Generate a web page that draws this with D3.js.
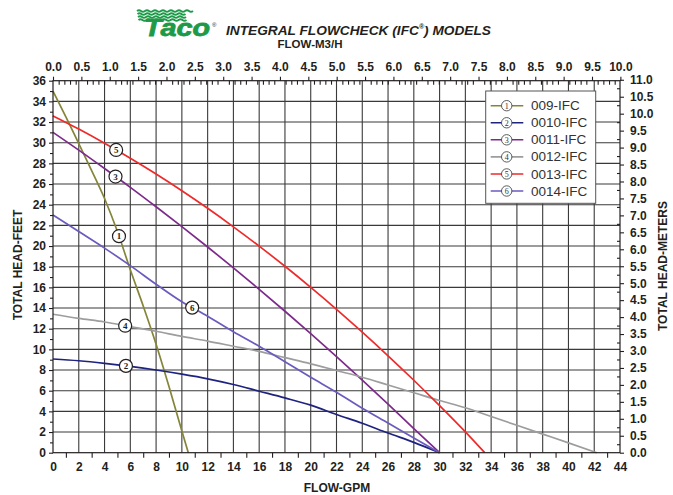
<!DOCTYPE html>
<html><head><meta charset="utf-8">
<script src="https://cdn.jsdelivr.net/npm/d3@7/dist/d3.min.js"></script>
<style>
body{margin:0;background:#fff}
svg{display:block;font-family:"Liberation Sans",Arial,sans-serif}
</style>
</head><body>
<svg id="c" width="673" height="495"></svg>
<script>
// ---- data (flow GPM, head FT) ----
const models = ["009-IFC","0010-IFC","0011-IFC","0012-IFC","0013-IFC","0014-IFC"];
const modelColors = ["#85853a","#1f2380","#7d2b8b","#9d9d9d","#ee2a2a","#6a5bbf"];
const curve009 = [[0,35],[1,32.5],[2,29.9],[3,27.3],[4,24.6],[5,21.4],[6,17.7],[7,14.2],[8,10.5],[9,6.4],[10,2.1],[10.5,0]];
const curve0010 = [[0,9.07],[2,8.9],[4,8.65],[6,8.35],[8,8.0],[10,7.6],[12,7.15],[14,6.6],[16,5.95],[18,5.3],[20,4.6],[22,3.7],[24,2.85],[26,1.9],[28,1.0],[30,0]];
const curve0011 = [[0,31.0],[2,29.28],[4,27.5],[6,25.68],[8,23.8],[10,21.88],[12,19.91],[14,17.89],[16,15.81],[18,13.69],[20,11.52],[22,9.3],[24,7.03],[26,4.71],[28,2.34],[30,0]];
const curve0012 = [[0,13.4],[2,13.0],[4,12.65],[6,12.2],[8,11.75],[10,11.25],[12,10.8],[14,10.3],[16,9.8],[18,9.2],[20,8.6],[22,7.95],[24,7.3],[26,6.55],[28,5.8],[30,5.05],[32,4.35],[34,3.5],[36,2.65],[38,1.8],[40,0.95],[42.2,0]];
const curve0013 = [[0,32.6],[2,31.32],[4,29.95],[6,28.5],[8,26.97],[10,25.35],[12,23.65],[14,21.86],[16,19.99],[18,18.04],[20,16.0],[22,13.88],[24,11.67],[26,9.38],[28,7.01],[30,4.55],[32,2.01],[33.5,0]];
const curve0014 = [[0,23.0],[2,21.4],[4,19.8],[6,18.1],[8,16.3],[10,14.6],[12,13.2],[14,11.7],[16,10.3],[18,8.8],[20,7.3],[22,5.85],[24,4.3],[26,2.87],[28,1.43],[30,0]];
const curves = [curve009,curve0010,curve0011,curve0012,curve0013,curve0014];
const labelGPM = [5.12,5.66,4.85,5.6,4.9,10.8];
const gpmTicks = d3.range(0,45,2);
const feetTicks = d3.range(0,37,2);
const m3hTicks = d3.range(0,10.001,0.5);
const meterTicks = d3.range(0,11.001,0.5);

// ---- layout ----
const svg = d3.select("#c");
const L=53,R=620,T=80.7,B=452.7;
const x = d3.scaleLinear().domain([0,44]).range([L,R]);
const y = d3.scaleLinear().domain([0,36]).range([B,T]);
const xTop = d3.scaleLinear().domain([0,44*0.2271247]).range([L,R]);
const yR = d3.scaleLinear().domain([0,36*0.3048]).range([B,T]);
const ink = "#231f20";

// grid
const g = svg.append("g");
g.selectAll(".vg").data(gpmTicks.filter(d=>d>0&&d<44)).join("line")
  .attr("x1",d=>x(d)).attr("x2",d=>x(d)).attr("y1",T).attr("y2",B)
  .attr("stroke","#3a3a3a").attr("stroke-width",1.1);
g.selectAll(".hg").data(feetTicks.filter(d=>d>0&&d<36)).join("line")
  .attr("y1",d=>y(d)).attr("y2",d=>y(d)).attr("x1",L).attr("x2",R)
  .attr("stroke","#3a3a3a").attr("stroke-width",1.1);

// curves
const line = d3.line().x(d=>x(d[0])).y(d=>y(d[1])).curve(d3.curveMonotoneX);
svg.append("g").selectAll("path").data(curves).join("path")
  .attr("d",line).attr("fill","none")
  .attr("stroke",(d,i)=>modelColors[i]).attr("stroke-width",1.7);

// border
svg.append("rect").attr("x",L).attr("y",T).attr("width",R-L).attr("height",B-T)
  .attr("fill","none").attr("stroke",ink).attr("stroke-width",1.2);

function styleAxis(sel){
  sel.select(".domain").remove();
  sel.selectAll("line").attr("stroke",ink).attr("stroke-width",1.1);
  sel.selectAll("text").attr("fill",ink).attr("font-size",12).attr("font-weight","bold")
    .attr("font-family","'Liberation Sans',Arial,sans-serif");
}
// left
svg.append("g").attr("transform",`translate(${L},0)`)
  .call(d3.axisLeft(y).tickValues(feetTicks).tickSize(4).tickPadding(3)).call(styleAxis);
svg.append("g").attr("transform",`translate(${L},0)`)
  .call(d3.axisLeft(y).tickValues(d3.range(1,36,2)).tickSize(3).tickFormat("")).call(styleAxis);
// bottom
svg.append("g").attr("transform",`translate(0,${B})`)
  .call(d3.axisBottom(x).tickValues(gpmTicks).tickSize(0).tickPadding(9.5)).call(styleAxis);
svg.append("g").attr("transform",`translate(0,${B})`)
  .call(d3.axisBottom(x).tickValues(d3.range(1,44,2)).tickSize(5).tickFormat("")).call(styleAxis);
// top
svg.append("g").attr("transform",`translate(0,${T})`)
  .call(d3.axisTop(xTop).tickValues(m3hTicks).tickSize(4).tickPadding(5.5).tickFormat(d3.format(".1f"))).call(styleAxis);
svg.append("g").attr("transform",`translate(0,${T})`)
  .call(d3.axisTop(xTop).tickValues(d3.range(0,100,1).filter(k=>k%5!==0).map(k=>k/10)).tickSize(-4).tickFormat("")).call(styleAxis);
// right
svg.append("g").attr("transform",`translate(${R},0)`)
  .call(d3.axisRight(yR).tickValues(meterTicks).tickSize(4).tickPadding(6).tickFormat(d3.format(".1f"))).call(styleAxis);
svg.append("g").attr("transform",`translate(${R},0)`)
  .call(d3.axisRight(yR).tickValues(d3.range(0.25,11,0.5)).tickSize(-3).tickFormat("")).call(styleAxis);

// curve labels
function headAt(c,q){
  for(let i=1;i<c.length;i++){ if(q<=c[i][0]){const a=c[i-1],b=c[i];return a[1]+(b[1]-a[1])*(q-a[0])/(b[0]-a[0]);} }
  return c[c.length-1][1];
}
const lab = svg.append("g");
curves.forEach((c,i)=>{
  const cx=x(labelGPM[i]), cy=y(headAt(c,labelGPM[i]));
  lab.append("circle").attr("cx",cx).attr("cy",cy).attr("r",6.5).attr("fill","#fff").attr("stroke",ink).attr("stroke-width",1.2);
  lab.append("text").attr("x",cx).attr("y",cy+3.2).attr("text-anchor","middle")
    .attr("font-size",9).attr("font-weight","bold").attr("font-family","'Liberation Serif',serif").attr("fill",ink).text(i+1);
});

// legend
const lg = svg.append("g");
lg.append("rect").attr("x",485.7).attr("y",91).attr("width",110).attr("height",112.3)
  .attr("fill","#fff").attr("stroke","#555").attr("stroke-width",1);
models.forEach((m,i)=>{
  const ly = 105.7 + i*17.06;
  lg.append("line").attr("x1",490.7).attr("x2",523.3).attr("y1",ly).attr("y2",ly).attr("stroke",modelColors[i]).attr("stroke-width",1.6);
  lg.append("circle").attr("cx",506.7).attr("cy",ly).attr("r",5.2).attr("fill","#fff").attr("stroke","#333").attr("stroke-width",0.8);
  lg.append("text").attr("x",506.7).attr("y",ly+2.8).attr("text-anchor","middle").attr("font-size",8)
    .attr("font-family","'Liberation Serif',serif").attr("fill","#333").text(i+1);
  lg.append("text").attr("x",531).attr("y",ly+4.6).attr("font-size",13.5).attr("fill","#333").text(m);
});

// titles
svg.append("text").attr("x",226).attr("y",35).attr("font-size",13.7).attr("font-weight","bold")
  .attr("font-style","italic").attr("fill",ink)
  .html('INTEGRAL FLOWCHECK (IFC<tspan font-size="7" dy="-6">®</tspan><tspan dy="6">) MODELS</tspan>');
svg.append("text").attr("x",310).attr("y",48.3).attr("text-anchor","middle").attr("font-size",11.5)
  .attr("font-weight","bold").attr("fill",ink).text("FLOW-M3/H");
svg.append("text").attr("x",337).attr("y",492).attr("text-anchor","middle").attr("font-size",12)
  .attr("font-weight","bold").attr("fill",ink).text("FLOW-GPM");
svg.append("text").attr("transform","translate(22,265) rotate(-90)").attr("text-anchor","middle").attr("font-size",12)
  .attr("font-weight","bold").attr("fill",ink).text("TOTAL HEAD-FEET");
svg.append("text").attr("transform","translate(667,266) rotate(-90)").attr("text-anchor","middle").attr("font-size",12)
  .attr("font-weight","bold").attr("fill",ink).text("TOTAL HEAD-METERS");

// Taco logo
const green="#1c9a48";
const logo = svg.append("g");
[11,14,17,20].forEach((wy,k)=>{
  const x0=137+k*0.5, x1=186-k*1.5;
  let d=`M${x0},${wy}`;
  for(let xx=x0; xx<x1; xx+=8){ d+=` q2,-1.6 4,0 q2,1.6 4,0`; }
  logo.append("path").attr("d",d).attr("fill","none").attr("stroke",green).attr("stroke-width",1.8);
});
logo.append("text").attr("x",144).attr("y",35.5).attr("font-size",24).attr("font-weight","bold")
  .attr("font-style","italic").attr("fill",green).attr("stroke",green).attr("stroke-width",0.8)
  .attr("textLength",66).attr("lengthAdjust","spacingAndGlyphs")
  .attr("font-family","'Liberation Sans',Arial,sans-serif").text("Taco");
logo.append("text").attr("x",212).attr("y",27).attr("font-size",6).attr("fill",ink).text("®");
</script>
</body></html>
